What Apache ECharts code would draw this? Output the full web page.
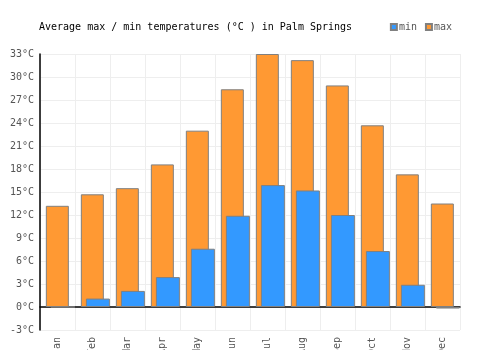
<!DOCTYPE html>
<html>
<head>
<meta charset="utf-8">
<script src="https://cdn.jsdelivr.net/npm/echarts@6/dist/echarts.min.js"></script>
<style>
  html, body { margin: 0; padding: 0; background: #fff; }
</style>
</head>
<body>
<div id="main" style="width: 500px;height:350px;"></div>
<script>
const months = ["Jan", "Feb", "Mar", "Apr", "May", "Jun", "Jul", "Aug", "Sep", "Oct", "Nov", "Dec"];
const maxTemps = [13.2, 14.7, 15.5, 18.6, 23.0, 28.4, 33.0, 32.2, 28.9, 23.7, 17.3, 13.5];
const minTemps = [0, 1.1, 2.1, 3.9, 7.6, 11.9, 15.9, 15.2, 12.0, 7.3, 2.9, -0.2];

const font = "DejaVu Sans Mono";
const chart = echarts.init(document.getElementById("main"));

const option = {
  animation: false,
  title: {
    text: "Average max / min temperatures (°C ) in Palm Springs",
    left: 34,
    top: 17,
    textStyle: { fontFamily: font, fontSize: 10, fontWeight: "normal", color: "#000" },
  },
  legend: {
    data: ["min", "max"],
    right: 43,
    top: 17,
    icon: "rect",
    itemWidth: 6,
    itemHeight: 6,
    itemGap: 8,
    textStyle: { fontFamily: font, fontSize: 10, color: "#555", padding: [0, 0, 0, -3] },
  },
  grid: { left: 40, right: 40, top: 54, bottom: 20, outerBoundsMode: "none", containLabel: false },
  xAxis: {
    type: "category",
    data: months,
    axisLine: { lineStyle: { color: "#000", width: 1.5 } },
    axisTick: { show: false },
    splitLine: { show: true, lineStyle: { color: "#eee" } },
    axisLabel: { rotate: 90, fontFamily: font, fontSize: 10, color: "#555", margin: 7 },
  },
  yAxis: {
    type: "value",
    min: -3,
    max: 33,
    interval: 3,
    axisLine: { show: true, lineStyle: { color: "#000", width: 1.5 } },
    axisTick: { show: false },
    splitLine: { lineStyle: { color: "#eee" } },
    axisLabel: { formatter: "{value}°C", fontFamily: font, fontSize: 10, color: "#555", margin: 6 },
  },
  series: [
    {
      name: "max",
      type: "bar",
      data: maxTemps,
      barWidth: 23,
      itemStyle: { color: "#FF9933", borderColor: "#808080", borderWidth: 1 },
    },
    {
      name: "min",
      type: "bar",
      data: minTemps,
      barWidth: 24,
      barGap: "-78%",
      itemStyle: { color: "#3399FF", borderColor: "#808080", borderWidth: 1 },
    },
    {
      // empty spacer so the max bars stay centred in each month
      name: "spacer",
      type: "bar",
      data: [],
      barWidth: 13,
      barGap: "-78%",
    },
  ],
};
chart.setOption(option);
</script>
</body>
</html>
